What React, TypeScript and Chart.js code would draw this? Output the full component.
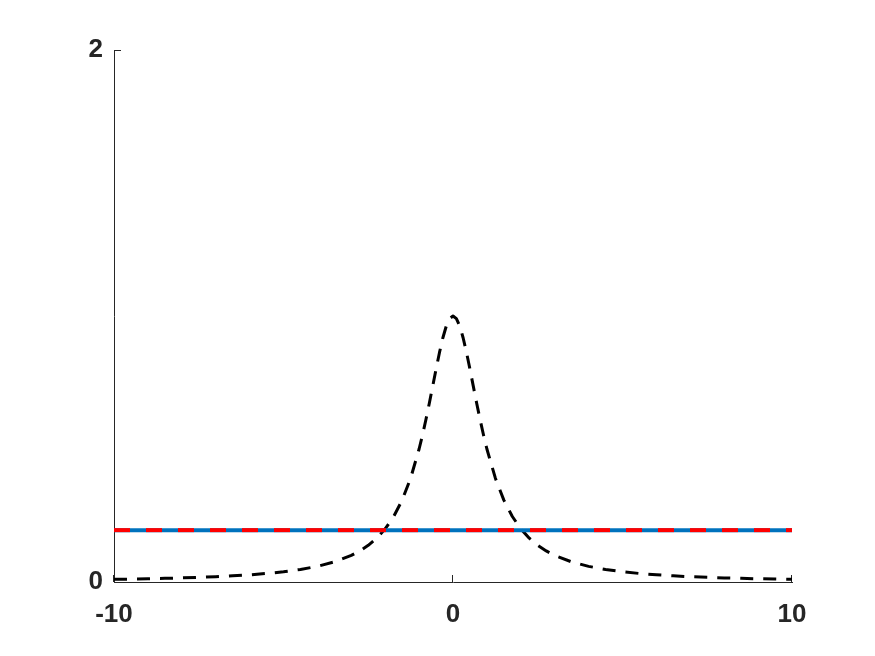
import React, { useEffect, useRef } from "react";
import { Chart, registerables } from "chart.js";

Chart.register(...registerables);

const curveX = [
  -10, -9.5, -9, -8.5, -8, -7.5, -7, -6.5, -6, -5.5, -5, -4.5, -4, -3.5, -3,
  -2.75, -2.5, -2.25, -2, -1.75, -1.5, -1.25, -1, -0.9, -0.8, -0.7, -0.6,
  -0.5, -0.4, -0.3, -0.2, -0.1, 0, 0.1, 0.2, 0.3, 0.4, 0.5, 0.6, 0.7, 0.8,
  0.9, 1, 1.25, 1.5, 1.75, 2, 2.25, 2.5, 2.75, 3, 3.5, 4, 4.5, 5, 5.5, 6,
  6.5, 7, 7.5, 8, 8.5, 9, 9.5, 10,
];
const curveY = [
  0.0099, 0.011, 0.0122, 0.0137, 0.0154, 0.0175, 0.02, 0.0231, 0.027, 0.032,
  0.0385, 0.0471, 0.0588, 0.0755, 0.1, 0.1168, 0.1379, 0.1649, 0.2, 0.2462,
  0.3077, 0.3902, 0.5, 0.5525, 0.6098, 0.6711, 0.7353, 0.8, 0.8621, 0.9174,
  0.9615, 0.9901, 1, 0.9901, 0.9615, 0.9174, 0.8621, 0.8, 0.7353, 0.6711,
  0.6098, 0.5525, 0.5, 0.3902, 0.3077, 0.2462, 0.2, 0.1649, 0.1379, 0.1168,
  0.1, 0.0755, 0.0588, 0.0471, 0.0385, 0.032, 0.027, 0.0231, 0.02, 0.0175,
  0.0154, 0.0137, 0.0122, 0.011, 0.0099,
];
const levelX = [-10, 10];
const blueLevel = [0.195, 0.195];
const redLevel = [0.195, 0.195];
const xTicks = [-10, 0, 10];
const yTicks = [0, 2];

const AXIS_COLOR = "#262626";
const FONT = { family: "'Liberation Sans', Arial, Helvetica, sans-serif", size: 26, weight: "bold" as const };

const inwardTicks = {
  id: "inwardTicks",
  beforeDatasetsDraw(chart: any) {
    const { ctx, chartArea, scales } = chart;
    const len = 7;
    ctx.save();
    ctx.strokeStyle = AXIS_COLOR;
    ctx.lineWidth = 1;
    ctx.beginPath();
    scales.y.ticks.forEach((t: any) => {
      const py = Math.round(scales.y.getPixelForValue(t.value)) + 0.5;
      ctx.moveTo(chartArea.left, py);
      ctx.lineTo(chartArea.left + len, py);
    });
    scales.x.ticks.forEach((t: any) => {
      const px = Math.round(scales.x.getPixelForValue(t.value)) - 0.5;
      ctx.moveTo(px, chartArea.bottom);
      ctx.lineTo(px, chartArea.bottom - len);
    });
    ctx.stroke();
    ctx.restore();
  },
};

export default function App() {
  const ref = useRef<HTMLCanvasElement | null>(null);
  useEffect(() => {
    if (!ref.current) return;
    const chart = new Chart(ref.current, {
      type: "line",
      data: {
        datasets: [
          {
            label: "red",
            data: levelX.map((x, i) => ({ x, y: redLevel[i] })),
            borderColor: "#ff0000",
            borderWidth: 4,
            borderDash: [16, 16],
            pointRadius: 0,
            order: 0,
          },
          {
            label: "blue",
            data: levelX.map((x, i) => ({ x, y: blueLevel[i] })),
            borderColor: "#0072bd",
            borderWidth: 4,
            pointRadius: 0,
            order: 1,
          },
          {
            label: "curve",
            data: curveX.map((x, i) => ({ x, y: curveY[i] })),
            borderColor: "#000000",
            borderWidth: 3,
            borderDash: [13, 10],
            borderJoinStyle: "round",
            pointRadius: 0,
            tension: 0,
            order: 2,
          },
        ],
      },
      options: {
        animation: false,
        responsive: true,
        maintainAspectRatio: false,
        layout: { padding: { left: 0, right: 83, top: 50, bottom: 0 } },
        plugins: { legend: { display: false }, tooltip: { enabled: false } },
        scales: {
          x: {
            type: "linear",
            min: -10,
            max: 10,
            afterBuildTicks: (s: any) => {
              s.ticks = xTicks.map((v) => ({ value: v }));
            },
            afterFit: (s: any) => {
              s.height = 74;
            },
            grid: { display: false, drawTicks: false },
            border: { display: true, color: AXIS_COLOR, width: 1 },
            ticks: { color: AXIS_COLOR, font: FONT, padding: 17, maxRotation: 0 },
          },
          y: {
            type: "linear",
            min: 0,
            max: 2,
            afterBuildTicks: (s: any) => {
              s.ticks = yTicks.map((v) => ({ value: v }));
            },
            afterFit: (s: any) => {
              s.width = 114;
            },
            grid: { display: false, drawTicks: false },
            border: { display: true, color: AXIS_COLOR, width: 1 },
            ticks: { color: AXIS_COLOR, font: FONT, padding: 11 },
          },
        },
      },
      plugins: [inwardTicks],
    });
    return () => chart.destroy();
  }, []);
  return (
    <div style={{ position: "absolute", left: 0, top: 0, width: 875, height: 656, background: "#fff" }}>
      <canvas ref={ref} />
    </div>
  );
}
